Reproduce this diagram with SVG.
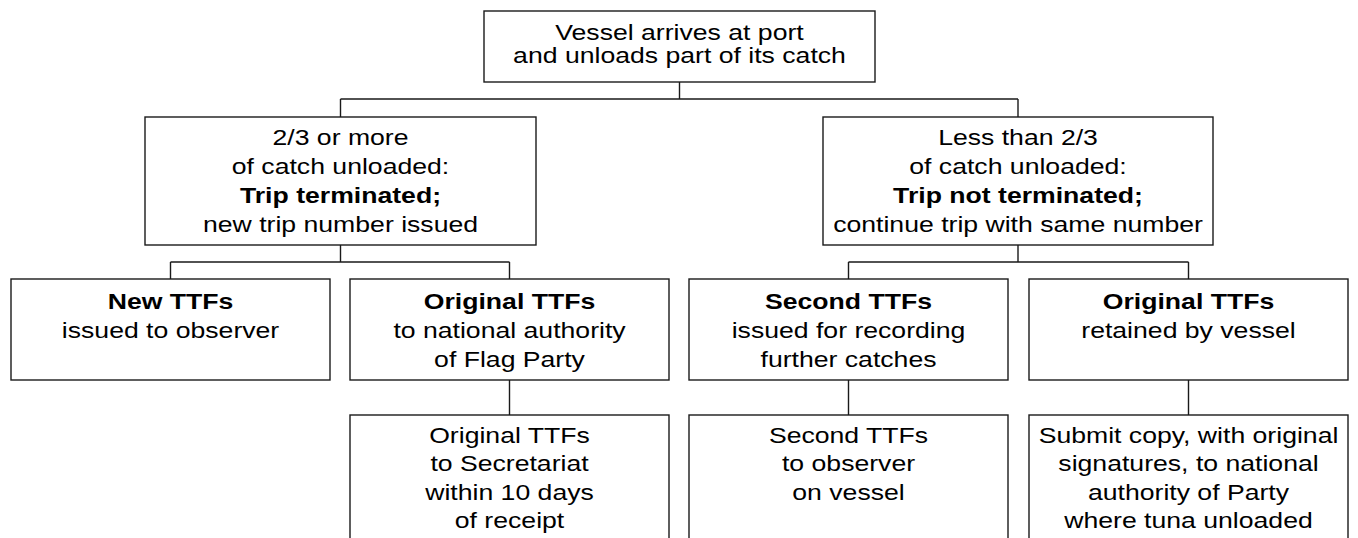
<svg xmlns="http://www.w3.org/2000/svg" width="1358" height="538" viewBox="0 0 1358 538">
<style>
  .box { fill: #ffffff; stroke: #1a1a1a; stroke-width: 1.4; }
  .conn { fill: none; stroke: #1a1a1a; stroke-width: 1.4; }
  .t { font-family: "Liberation Sans", Arial, sans-serif; font-size: 22px; fill: #000; text-anchor: middle; }
  .b { font-weight: bold; }
</style>
<rect x="0" y="0" width="1358" height="538" fill="#ffffff"/>
<g id="connectors">
  <path class="conn" d="M679.5 82 V99 M340.5 99 H1018 M340.5 99 V117 M1018 99 V117"/>
  <path class="conn" d="M340.5 245 V262 M170.5 262 H509.5 M170.5 262 V279 M509.5 262 V279"/>
  <path class="conn" d="M1018 245 V262 M848.5 262 H1188.5 M848.5 262 V279 M1188.5 262 V279"/>
  <path class="conn" d="M509.5 380 V415 M848.5 380 V415 M1188.5 380 V415"/>
</g>
<g id="node-arrive">
  <rect class="box" x="484" y="11" width="391" height="71"/>
  <text class="t" transform="translate(679.5,39.5) scale(1.21,1)"><tspan x="0" dy="0">Vessel arrives at port</tspan><tspan x="0" dy="23.5">and unloads part of its catch</tspan></text>
</g>
<g id="node-terminated">
  <rect class="box" x="145" y="117" width="391" height="128"/>
  <text class="t" transform="translate(340.5,145) scale(1.21,1)"><tspan x="0" dy="0">2/3 or more</tspan><tspan x="0" dy="29">of catch unloaded:</tspan><tspan x="0" dy="29" class="b">Trip terminated;</tspan><tspan x="0" dy="29">new trip number issued</tspan></text>
</g>
<g id="node-not-terminated">
  <rect class="box" x="823" y="117" width="390" height="128"/>
  <text class="t" transform="translate(1018,145) scale(1.21,1)"><tspan x="0" dy="0">Less than 2/3</tspan><tspan x="0" dy="29">of catch unloaded:</tspan><tspan x="0" dy="29" class="b">Trip not terminated;</tspan><tspan x="0" dy="29">continue trip with same number</tspan></text>
</g>
<g id="node-new-ttfs">
  <rect class="box" x="11" y="279" width="319" height="101"/>
  <text class="t" transform="translate(170.5,309) scale(1.21,1)"><tspan x="0" dy="0" class="b">New TTFs</tspan><tspan x="0" dy="29">issued to observer</tspan></text>
</g>
<g id="node-original-flag">
  <rect class="box" x="350" y="279" width="319" height="101"/>
  <text class="t" transform="translate(509.5,309) scale(1.21,1)"><tspan x="0" dy="0" class="b">Original TTFs</tspan><tspan x="0" dy="29">to national authority</tspan><tspan x="0" dy="29">of Flag Party</tspan></text>
</g>
<g id="node-second-ttfs">
  <rect class="box" x="689" y="279" width="319" height="101"/>
  <text class="t" transform="translate(848.5,309) scale(1.21,1)"><tspan x="0" dy="0" class="b">Second TTFs</tspan><tspan x="0" dy="29">issued for recording</tspan><tspan x="0" dy="29">further catches</tspan></text>
</g>
<g id="node-original-retained">
  <rect class="box" x="1029" y="279" width="319" height="101"/>
  <text class="t" transform="translate(1188.5,309) scale(1.21,1)"><tspan x="0" dy="0" class="b">Original TTFs</tspan><tspan x="0" dy="29">retained by vessel</tspan></text>
</g>
<g id="node-secretariat">
  <rect class="box" x="350" y="415" width="319" height="135"/>
  <text class="t" transform="translate(509.5,443) scale(1.21,1)"><tspan x="0" dy="0">Original TTFs</tspan><tspan x="0" dy="28.5">to Secretariat</tspan><tspan x="0" dy="28.5">within 10 days</tspan><tspan x="0" dy="28.5">of receipt</tspan></text>
</g>
<g id="node-observer">
  <rect class="box" x="689" y="415" width="319" height="135"/>
  <text class="t" transform="translate(848.5,443) scale(1.21,1)"><tspan x="0" dy="0">Second TTFs</tspan><tspan x="0" dy="28.5">to observer</tspan><tspan x="0" dy="28.5">on vessel</tspan></text>
</g>
<g id="node-submit-copy">
  <rect class="box" x="1029" y="415" width="319" height="135"/>
  <text class="t" transform="translate(1188.5,443) scale(1.21,1)"><tspan x="0" dy="0">Submit copy, with original</tspan><tspan x="0" dy="28.5">signatures, to national</tspan><tspan x="0" dy="28.5">authority of Party</tspan><tspan x="0" dy="28.5">where tuna unloaded</tspan></text>
</g>
</svg>
